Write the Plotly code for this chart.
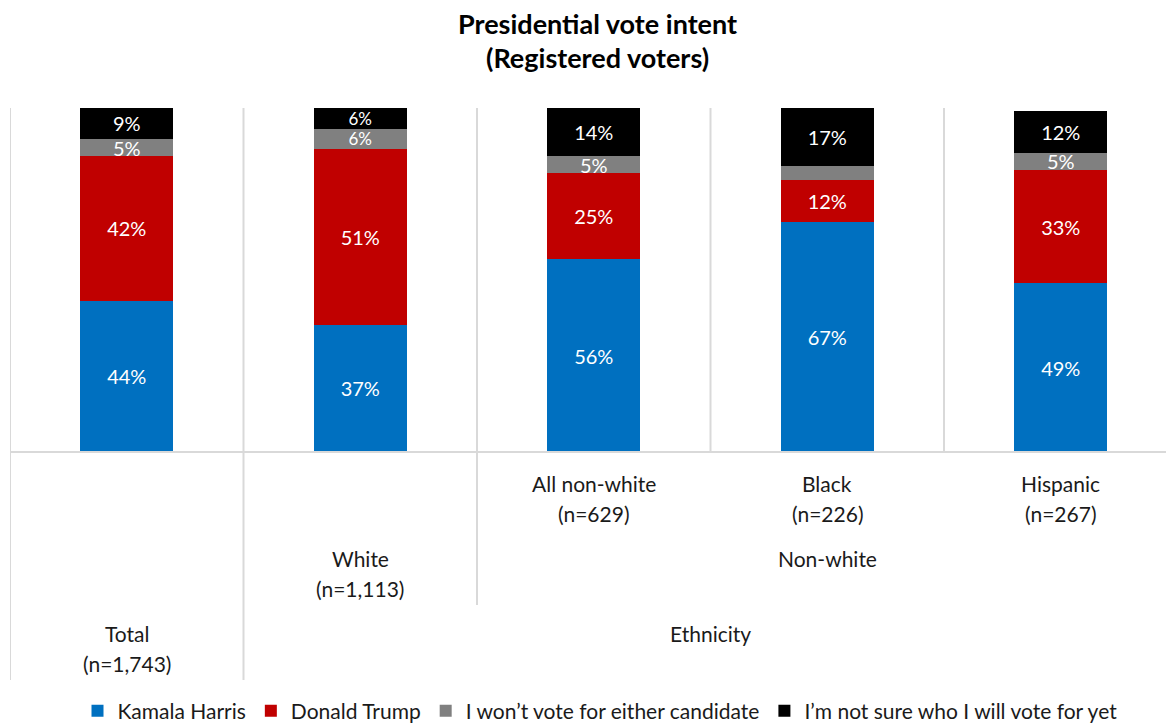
import plotly.graph_objects as go

# Survey groups (bottom-level categories) and sample sizes
groups = ["Total", "White", "All non-white", "Black", "Hispanic"]
sample_sizes = ["(n=1,743)", "(n=1,113)", "(n=629)", "(n=226)", "(n=267)"]

# Vote intent shares, percent
harris = [44, 37, 56, 67, 49]
trump = [42, 51, 25, 12, 33]
neither = [5, 6, 5, 4, 5]
unsure = [9, 6, 14, 17, 12]
neither_shown = [True, True, True, False, True]

series_names = [
    "Kamala Harris",
    "Donald Trump",
    "I won\u2019t vote for either candidate",
    "I\u2019m not sure who I will vote for yet",
]
series_colors = ["#0070C0", "#C00000", "#808080", "#000000"]

# Category hierarchy: Ethnicity > Non-white > {All non-white, Black, Hispanic}
parent_labels = ["Non-white", "Ethnicity"]
parent_members = [[2, 3, 4], [1, 2, 3, 4]]

FONT = "Lato, 'Open Sans', sans-serif"
GRID = "#D9D9D9"
LABEL_SIZE = 20
TIGHT_LABEL_SIZE = 17  # two thin segments stacked on each other

W, H = 1166, 725
M_L, M_R, M_T, M_B = 10, 0, 108, 273
plot_h = H - M_T - M_B


def py(pixel_y):
    """Paper y coordinate for a pixel row of the page."""
    return (H - M_B - pixel_y) / plot_h


x = list(range(len(groups)))
fig = go.Figure()

# Labels of the two thin top segments shrink a little when both are thin
tight = [a <= 6 and b <= 6 for a, b in zip(neither, unsure)]

all_values = [harris, trump, neither, unsure]
for k, (name, vals, color) in enumerate(zip(series_names, all_values, series_colors)):
    labels = [f"{v}%" for v in vals]
    if vals is neither:
        labels = [lab if show else "" for lab, show in zip(labels, neither_shown)]
    if k >= 2:
        sizes = [TIGHT_LABEL_SIZE if t else LABEL_SIZE for t in tight]
    else:
        sizes = [LABEL_SIZE] * len(vals)
    fig.add_trace(go.Bar(
        x=x, y=vals, name=name,
        marker=dict(color=color, line=dict(width=0)),
        width=0.4,
        text=labels,
        textposition="inside",
        insidetextanchor="middle",
        constraintext="none",
        textangle=0,
        textfont=dict(color="white", size=sizes, family=FONT),
        hoverinfo="skip",
    ))

# Category boundaries and how far each divider runs below the axis
bottom_px = {-0.5: 680, 0.5: 680, 1.5: 605, 2.5: 452, 3.5: 452}
for bx, end_px in bottom_px.items():
    fig.add_shape(type="line", xref="x", yref="paper",
                  x0=bx, x1=bx, y0=py(end_px), y1=1,
                  line=dict(color=GRID, width=2), layer="below")

# Axis line along the bottom of the plot area
fig.add_shape(type="line", xref="paper", yref="paper", x0=0, x1=1, y0=0, y1=0,
              line=dict(color=GRID, width=2))

label_font = dict(family=FONT, size=21, color="#1a1a1a")


def add_label(xpos, text, pixel_y):
    fig.add_annotation(x=xpos, xref="x", y=py(pixel_y), yref="paper",
                       text=text, showarrow=False, font=label_font,
                       xanchor="center", yanchor="middle")


# Row placement of the category labels (name line, n line)
rows = {0: (633, 663), 1: (558, 588), 2: (483, 513), 3: (483, 513), 4: (483, 513)}
for i, (g, n) in enumerate(zip(groups, sample_sizes)):
    y1, y2 = rows[i]
    add_label(i, g, y1)
    add_label(i, n, y2)

parent_rows = [558, 633]
for lab, members, row_y in zip(parent_labels, parent_members, parent_rows):
    add_label(sum(members) / len(members), lab, row_y)

# Title
title_font = dict(family=FONT, size=27, color="#000000")
title_x = (597 - M_L) / (W - M_L - M_R)
fig.add_annotation(xref="paper", x=title_x, y=py(23), yref="paper",
                   text="<b>Presidential vote intent</b>", showarrow=False,
                   font=title_font, xanchor="center", yanchor="middle")
fig.add_annotation(xref="paper", x=title_x, y=py(58), yref="paper",
                   text="<b>(Registered voters)</b>", showarrow=False,
                   font=title_font, xanchor="center", yanchor="middle")

fig.update_layout(
    width=W, height=H,
    margin=dict(l=M_L, r=M_R, t=M_T, b=M_B),
    barmode="stack",
    plot_bgcolor="white", paper_bgcolor="white",
    showlegend=True,
    legend=dict(orientation="h", xref="container", yref="container",
                x=600 / W, xanchor="center", y=1 - 711 / H, yanchor="middle",
                font=dict(family=FONT, size=21, color="#1a1a1a"),
                itemwidth=30, traceorder="normal", tracegroupgap=0),
    xaxis=dict(range=[-0.5, -0.5 + (W - M_L - M_R) / 233.5], showgrid=False,
               showticklabels=False, zeroline=False, showline=False, fixedrange=True),
    yaxis=dict(range=[0, 100], showgrid=False, showticklabels=False,
               zeroline=False, showline=False, fixedrange=True),
)

fig.write_html("out.html")
